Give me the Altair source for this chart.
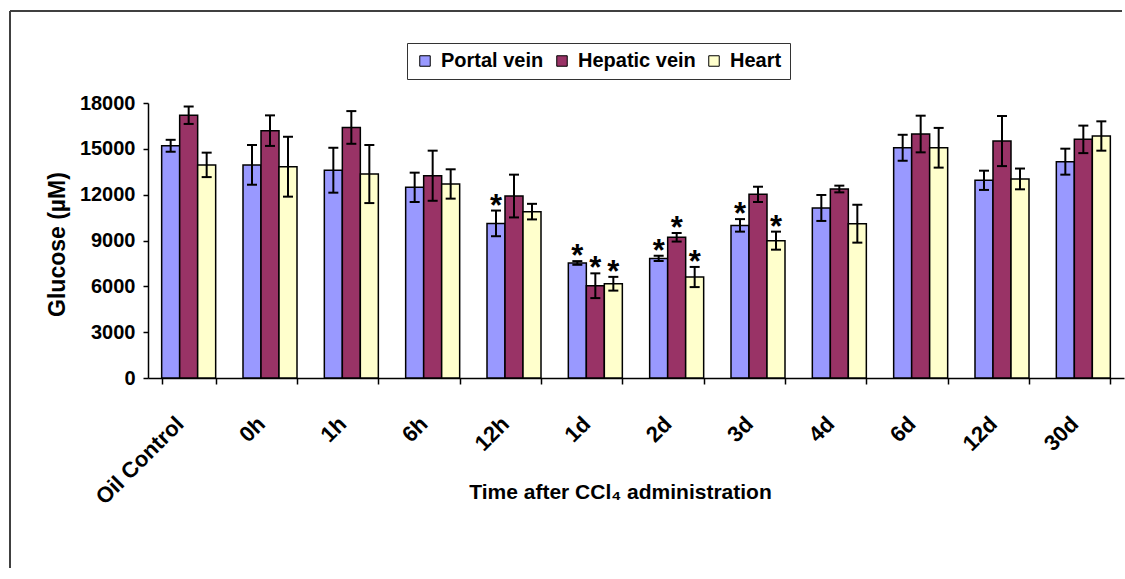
import altair as alt
import pandas as pd

categories = ["Oil Control", "0h", "1h", "6h", "12h", "1d", "2d", "3d", "4d", "6d", "12d", "30d"]
series = ["Portal vein", "Hepatic vein", "Heart"]
colors = ["#9999FF", "#993366", "#FFFFCC"]

portal = [15200, 13950, 13600, 12480, 10120, 7530, 7830, 9990, 11130, 15070, 12940, 14160]
portal_err = [390, 1300, 1470, 960, 840, 120, 170, 410, 850, 850, 630, 850]
hepatic = [17200, 16190, 16400, 13240, 11910, 6040, 9210, 12020, 12370, 15970, 15510, 15620]
hepatic_err = [570, 1000, 1070, 1640, 1400, 810, 280, 500, 220, 1200, 1640, 900]
heart = [13950, 13830, 13350, 12700, 10890, 6170, 6610, 8990, 10100, 15070, 13030, 15840]
heart_err = [800, 1960, 1900, 960, 510, 450, 660, 590, 1240, 1300, 680, 960]

portal_sig = ["12h", "1d", "2d", "3d"]
hepatic_sig = ["1d", "2d"]
heart_sig = ["1d", "2d", "3d"]

rows = []
for i, c in enumerate(categories):
    for s, vals, errs, sig in [
        ("Portal vein", portal, portal_err, portal_sig),
        ("Hepatic vein", hepatic, hepatic_err, hepatic_sig),
        ("Heart", heart, heart_err, heart_sig),
    ]:
        rows.append({
            "cat": c, "series": s, "value": vals[i],
            "lo": vals[i] - errs[i], "hi": vals[i] + errs[i],
            "star": "*" if c in sig else "",
        })
df = pd.DataFrame(rows)

FONT = "Liberation Sans, Arial, sans-serif"

x = alt.X(
    "cat:N", sort=categories,
    scale=alt.Scale(paddingInner=0.336, paddingOuter=0.168),
    title="Time after CCl\u2084 administration",
    axis=alt.Axis(
        labelAngle=-45, labelAlign="right", labelBaseline="middle",
        labelOffset=-9, labelPadding=36, labelFontSize=22, labelFontWeight="bold",
        labelFont=FONT, labelColor="black", labelLimit=300,
        tickSize=6, tickBand="extent", tickColor="black", tickWidth=1.5,
        domainColor="black", domainWidth=1.5, grid=False,
        titleX=472, titleY=114, titleFontSize=21, titleFontWeight="bold",
        titleFont=FONT, titleColor="black", titleBaseline="middle", titleAlign="center",
    ),
)
xoff = alt.XOffset("series:N", sort=series, scale=alt.Scale(paddingInner=0, paddingOuter=0))
y = alt.Y(
    "value:Q",
    scale=alt.Scale(domain=[0, 18000], nice=False),
    title="Glucose (\u00b5M)",
    axis=alt.Axis(
        values=[0, 3000, 6000, 9000, 12000, 15000, 18000], format="d",
        labelFontSize=20, labelFontWeight="bold", labelFont=FONT, labelColor="black",
        labelPadding=8, tickSize=5, tickColor="black", tickWidth=1.5,
        domainColor="black", domainWidth=1.5, grid=False,
        titleX=-91, titleY=141, titleFontSize=23, titleFontWeight="bold",
        titleFont=FONT, titleColor="black", titleBaseline="middle", titleAlign="center",
    ),
)
color = alt.Color(
    "series:N", sort=series,
    scale=alt.Scale(domain=series, range=colors),
    legend=alt.Legend(
        title=None, orient="none", legendX=259, legendY=-60, direction="horizontal",
        strokeColor="#333333", fillColor="white", padding=8,
        symbolType="square", symbolSize=110, symbolStrokeColor="black",
        symbolStrokeWidth=1, symbolOpacity=1,
        labelFontSize=20, labelFontWeight="bold", labelFont=FONT, labelColor="black",
        columnPadding=8, labelOffset=6, labelLimit=300,
    ),
)

base = alt.Chart(df)

# outer chart frame (top and left edges only, kept inside the canvas)
frame_data = alt.Data(values=[{"a": 1}])
frame_top = alt.Chart(frame_data).mark_rule(color="#404040", strokeWidth=2).encode(
    x=alt.value(-138), x2=alt.value(974), y=alt.value(-92)
)
frame_left = alt.Chart(frame_data).mark_rule(color="#404040", strokeWidth=2).encode(
    x=alt.value(-138), y=alt.value(-92), y2=alt.value(465)
)

bars = base.mark_bar(stroke="black", strokeWidth=1.5, opacity=1).encode(
    x=x, xOffset=xoff, y=y, color=color
)
whisk = base.mark_rule(color="black", strokeWidth=2).encode(
    x=x, xOffset=xoff, y="lo:Q", y2="hi:Q"
)
cap_lo = base.mark_tick(color="black", thickness=2, size=10, opacity=1).encode(
    x=x, xOffset=xoff, y="lo:Q"
)
cap_hi = base.mark_tick(color="black", thickness=2, size=10, opacity=1).encode(
    x=x, xOffset=xoff, y="hi:Q"
)
stars = base.transform_filter("datum.star != ''").mark_text(
    fontSize=31, fontWeight="bold", font=FONT, baseline="alphabetic", dy=5, color="black"
).encode(x=x, xOffset=xoff, y="hi:Q", text="star:N")

chart = alt.layer(frame_top, frame_left, bars, whisk, cap_lo, cap_hi, stars).properties(
    width=976, height=275,
    autosize=alt.AutoSizeParams(type="none"),
    padding={"left": 148, "top": 103, "right": 1, "bottom": 192},
).configure(font=FONT).configure_view(strokeWidth=0)

chart.save("out.html", embed_options={"renderer": "svg", "actions": False})
